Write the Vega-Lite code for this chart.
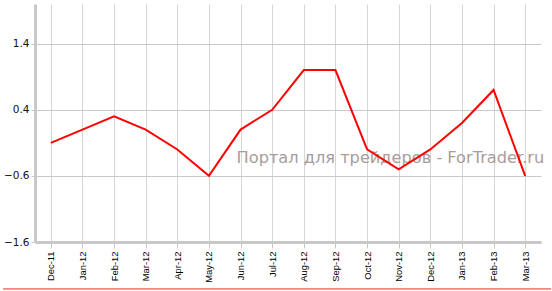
{
  "$schema": "https://vega.github.io/schema/vega-lite/v6.json",
  "autosize": "none",
  "width": 506,
  "height": 238,
  "padding": {"left": 35, "top": 4, "right": 11, "bottom": 49},
  "background": "white",
  "config": {"view": {"stroke": null}},
  "layer": [
    {
      "data": {"values": [
        {"month": "Dec-11", "value": -0.1},
        {"month": "Jan-12", "value": 0.1},
        {"month": "Feb-12", "value": 0.3},
        {"month": "Mar-12", "value": 0.1},
        {"month": "Apr-12", "value": -0.2},
        {"month": "May-12", "value": -0.6},
        {"month": "Jun-12", "value": 0.1},
        {"month": "Jul-12", "value": 0.4},
        {"month": "Aug-12", "value": 1.0},
        {"month": "Sep-12", "value": 1.0},
        {"month": "Oct-12", "value": -0.2},
        {"month": "Nov-12", "value": -0.5},
        {"month": "Dec-12", "value": -0.2},
        {"month": "Jan-13", "value": 0.2},
        {"month": "Feb-13", "value": 0.7},
        {"month": "Mar-13", "value": -0.6}
      ]},
      "encoding": {
        "x": {
          "field": "month", "type": "ordinal", "sort": null,
          "scale": {"type": "point", "padding": 0.5, "domain": ["Dec-11", "Jan-12", "Feb-12", "Mar-12", "Apr-12", "May-12", "Jun-12", "Jul-12", "Aug-12", "Sep-12", "Oct-12", "Nov-12", "Dec-12", "Jan-13", "Feb-13", "Mar-13"]},
          "axis": {
            "title": null, "labelAngle": -90, "labelFont": "Liberation Sans", "labelFontSize": 9.4,
            "labelColor": "#000000", "labelPadding": 3,
            "domainColor": "#c8c8c8", "domainWidth": 3, "tickColor": "#c8c8c8", "tickSize": 6, "tickWidth": 1,
            "grid": true, "gridColor": "#d6d6d6", "gridWidth": 1
          }
        },
        "y": {
          "field": "value", "type": "quantitative",
          "scale": {"domain": [-1.6, 2.0], "nice": false, "zero": false},
          "axis": {
            "title": null, "values": [-1.6, -0.6, 0.4, 1.4], "labelFont": "DejaVu Sans", "labelFontSize": 10.5,
            "labelColor": "#111111", "labelPadding": 2,
            "domainColor": "#c8c8c8", "domainWidth": 3, "tickColor": "#c8c8c8", "tickSize": 4,
            "grid": true, "gridColor": "#c8c8c8", "gridWidth": 1
          }
        }
      },
      "layer": [
        {
          "transform": [{"filter": "datum.month === 'Jun-12'"}],
          "mark": {"type": "text", "align": "left", "baseline": "middle", "font": "DejaVu Sans", "fontSize": 16.2, "color": "#a89c9c", "dx": -4, "dy": 28},
          "encoding": {"text": {"value": "Портал для трейдеров - ForTrader.ru"}}
        },
        {"mark": {"type": "line", "color": "#ff0000", "strokeWidth": 2}}
      ]
    },
    {
      "data": {"values": [{"value": -2.31, "start": -0.063, "end": 1.02}]},
      "mark": {"type": "rule", "color": "#e0301e", "strokeWidth": 1, "clip": false},
      "encoding": {
        "y": {"field": "value", "type": "quantitative"},
        "x": {"field": "start", "type": "quantitative", "scale": {"domain": [0, 1]}, "axis": null},
        "x2": {"field": "end"}
      }
    }
  ],
  "resolve": {"scale": {"x": "independent"}}
}
